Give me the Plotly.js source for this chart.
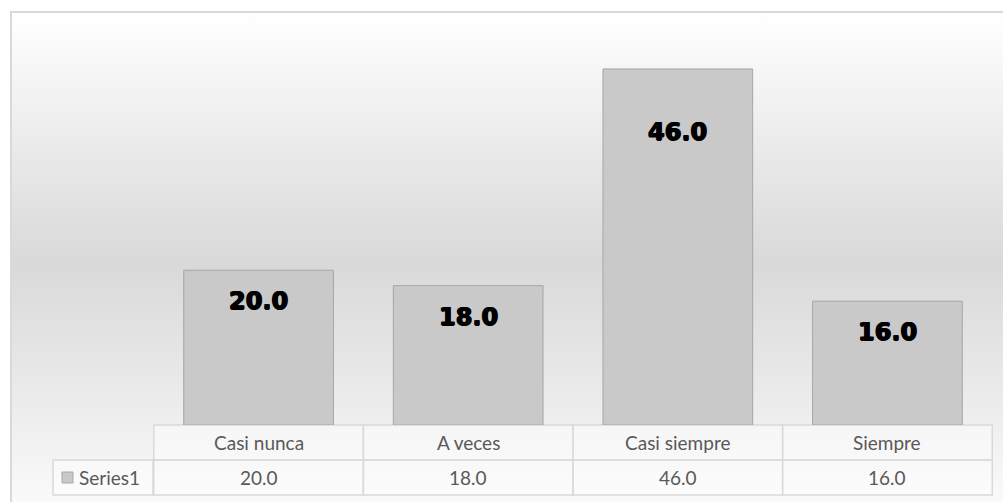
<!DOCTYPE html>
<html>
<head>
<meta charset="utf-8">
<script src="https://cdn.plot.ly/plotly-3.0.1.min.js"></script>
<style>
  html, body { margin: 0; padding: 0; width: 1003px; height: 502px; background: #ffffff; overflow: hidden; }
  #bg { position: absolute; left: 10px; top: 11px; width: 1000px; height: 500px;
        border-left: 2px solid #d9d9d9; border-top: 2px solid #d9d9d9; box-sizing: border-box;
        background: linear-gradient(to bottom, #ffffff 0%, #e8e8e8 30%, #d9d9d9 50%, #e6e6e6 70%, #fbfbfb 100%); }
  #chart { position: absolute; left: 0; top: 0; width: 1003px; height: 502px; }
</style>
</head>
<body>
<div id="bg"></div>
<div id="chart"></div>
<script>
// ---- data ----
const categories = ["Casi nunca", "A veces", "Casi siempre", "Siempre"];
const seriesName = "Series1";
const values = [20.0, 18.0, 46.0, 16.0];

// ---- style ----
const labelShiftPx = [-31, -31, -63, -31];
const plotTop = 38, plotBottom = 425, plotLeft = 153, plotRight = 993;
const plotH = plotBottom - plotTop, plotW = plotRight - plotLeft;
const headerBottom = 460, rowBottom = 495, legendLeft = 53;
const py = p => (plotBottom - p) / plotH;   // pixel y -> paper y
const px = p => (p - plotLeft) / plotW;     // pixel x -> paper x
const gridColor = "#d9d9d9";
const textColor = "#595959";
const tableFont = { family: "Lato, 'Open Sans', sans-serif", size: 19, color: textColor };

const fmt = v => v.toFixed(1);

const trace = {
  type: "bar",
  x: categories,
  y: values,
  name: seriesName,
  marker: { color: "#c9c9c9", line: { color: "#a6a6a6", width: 1 } },
  hoverinfo: "skip"
};

const annotations = [];
const shapes = [];

// data labels on bars
values.forEach((v, i) => {
  annotations.push({
    x: categories[i], y: v, xref: "x", yref: "y",
    text: fmt(v), showarrow: false, yshift: labelShiftPx[i], yanchor: "middle",
    font: { family: "'DejaVu Sans', sans-serif", size: 24, color: "#000000", weight: "bold",
            shadow: "0.7px 0 0 #000, -0.7px 0 0 #000, 0 0.5px 0 #000" }
  });
});

// data table: header row cells & value row cells
categories.forEach((c, i) => {
  shapes.push({ type: "rect", xref: "x", yref: "paper", x0: i - 0.5, x1: i + 0.5,
    y0: py(headerBottom), y1: py(plotBottom), line: { color: gridColor, width: 1.5 },
    fillcolor: "rgba(255,255,255,0.45)", layer: "below" });
  shapes.push({ type: "rect", xref: "x", yref: "paper", x0: i - 0.5, x1: i + 0.5,
    y0: py(rowBottom), y1: py(headerBottom), line: { color: gridColor, width: 1.5 },
    fillcolor: "rgba(255,255,255,0.45)", layer: "below" });
  annotations.push({ x: c, xref: "x", y: 0, yref: "paper", yshift: -17, yanchor: "middle",
    text: c, showarrow: false, font: tableFont });
  annotations.push({ x: c, xref: "x", y: 0, yref: "paper", yshift: -52, yanchor: "middle",
    text: fmt(values[i]), showarrow: false, font: tableFont });
});

// legend cell
shapes.push({ type: "rect", xref: "paper", yref: "paper", x0: px(legendLeft), x1: 0,
  y0: py(rowBottom), y1: py(headerBottom), line: { color: gridColor, width: 1.5 },
  fillcolor: "rgba(255,255,255,0.45)", layer: "below" });
shapes.push({ type: "rect", xref: "paper", yref: "paper", x0: px(62), x1: px(73),
  y0: py(483), y1: py(472), line: { color: "#a6a6a6", width: 1 }, fillcolor: "#c9c9c9" });
annotations.push({ x: px(77), xref: "paper", xanchor: "left", y: 0, yref: "paper", yshift: -52,
  yanchor: "middle", text: seriesName, showarrow: false, font: tableFont });

const layout = {
  width: 1003, height: 502,
  margin: { l: plotLeft, r: 1003 - plotRight, t: plotTop, b: 502 - plotBottom, pad: 0 },
  paper_bgcolor: "rgba(0,0,0,0)",
  plot_bgcolor: "rgba(0,0,0,0)",
  showlegend: false,
  bargap: 0.286,
  xaxis: { type: "category", showticklabels: false, showgrid: false, zeroline: false,
           showline: false, ticks: "", fixedrange: true },
  yaxis: { range: [0, 50], visible: false, showgrid: false, zeroline: false, fixedrange: true },
  annotations: annotations,
  shapes: shapes
};

Plotly.newPlot("chart", [trace], layout, { displayModeBar: false, staticPlot: true });
</script>
</body>
</html>
